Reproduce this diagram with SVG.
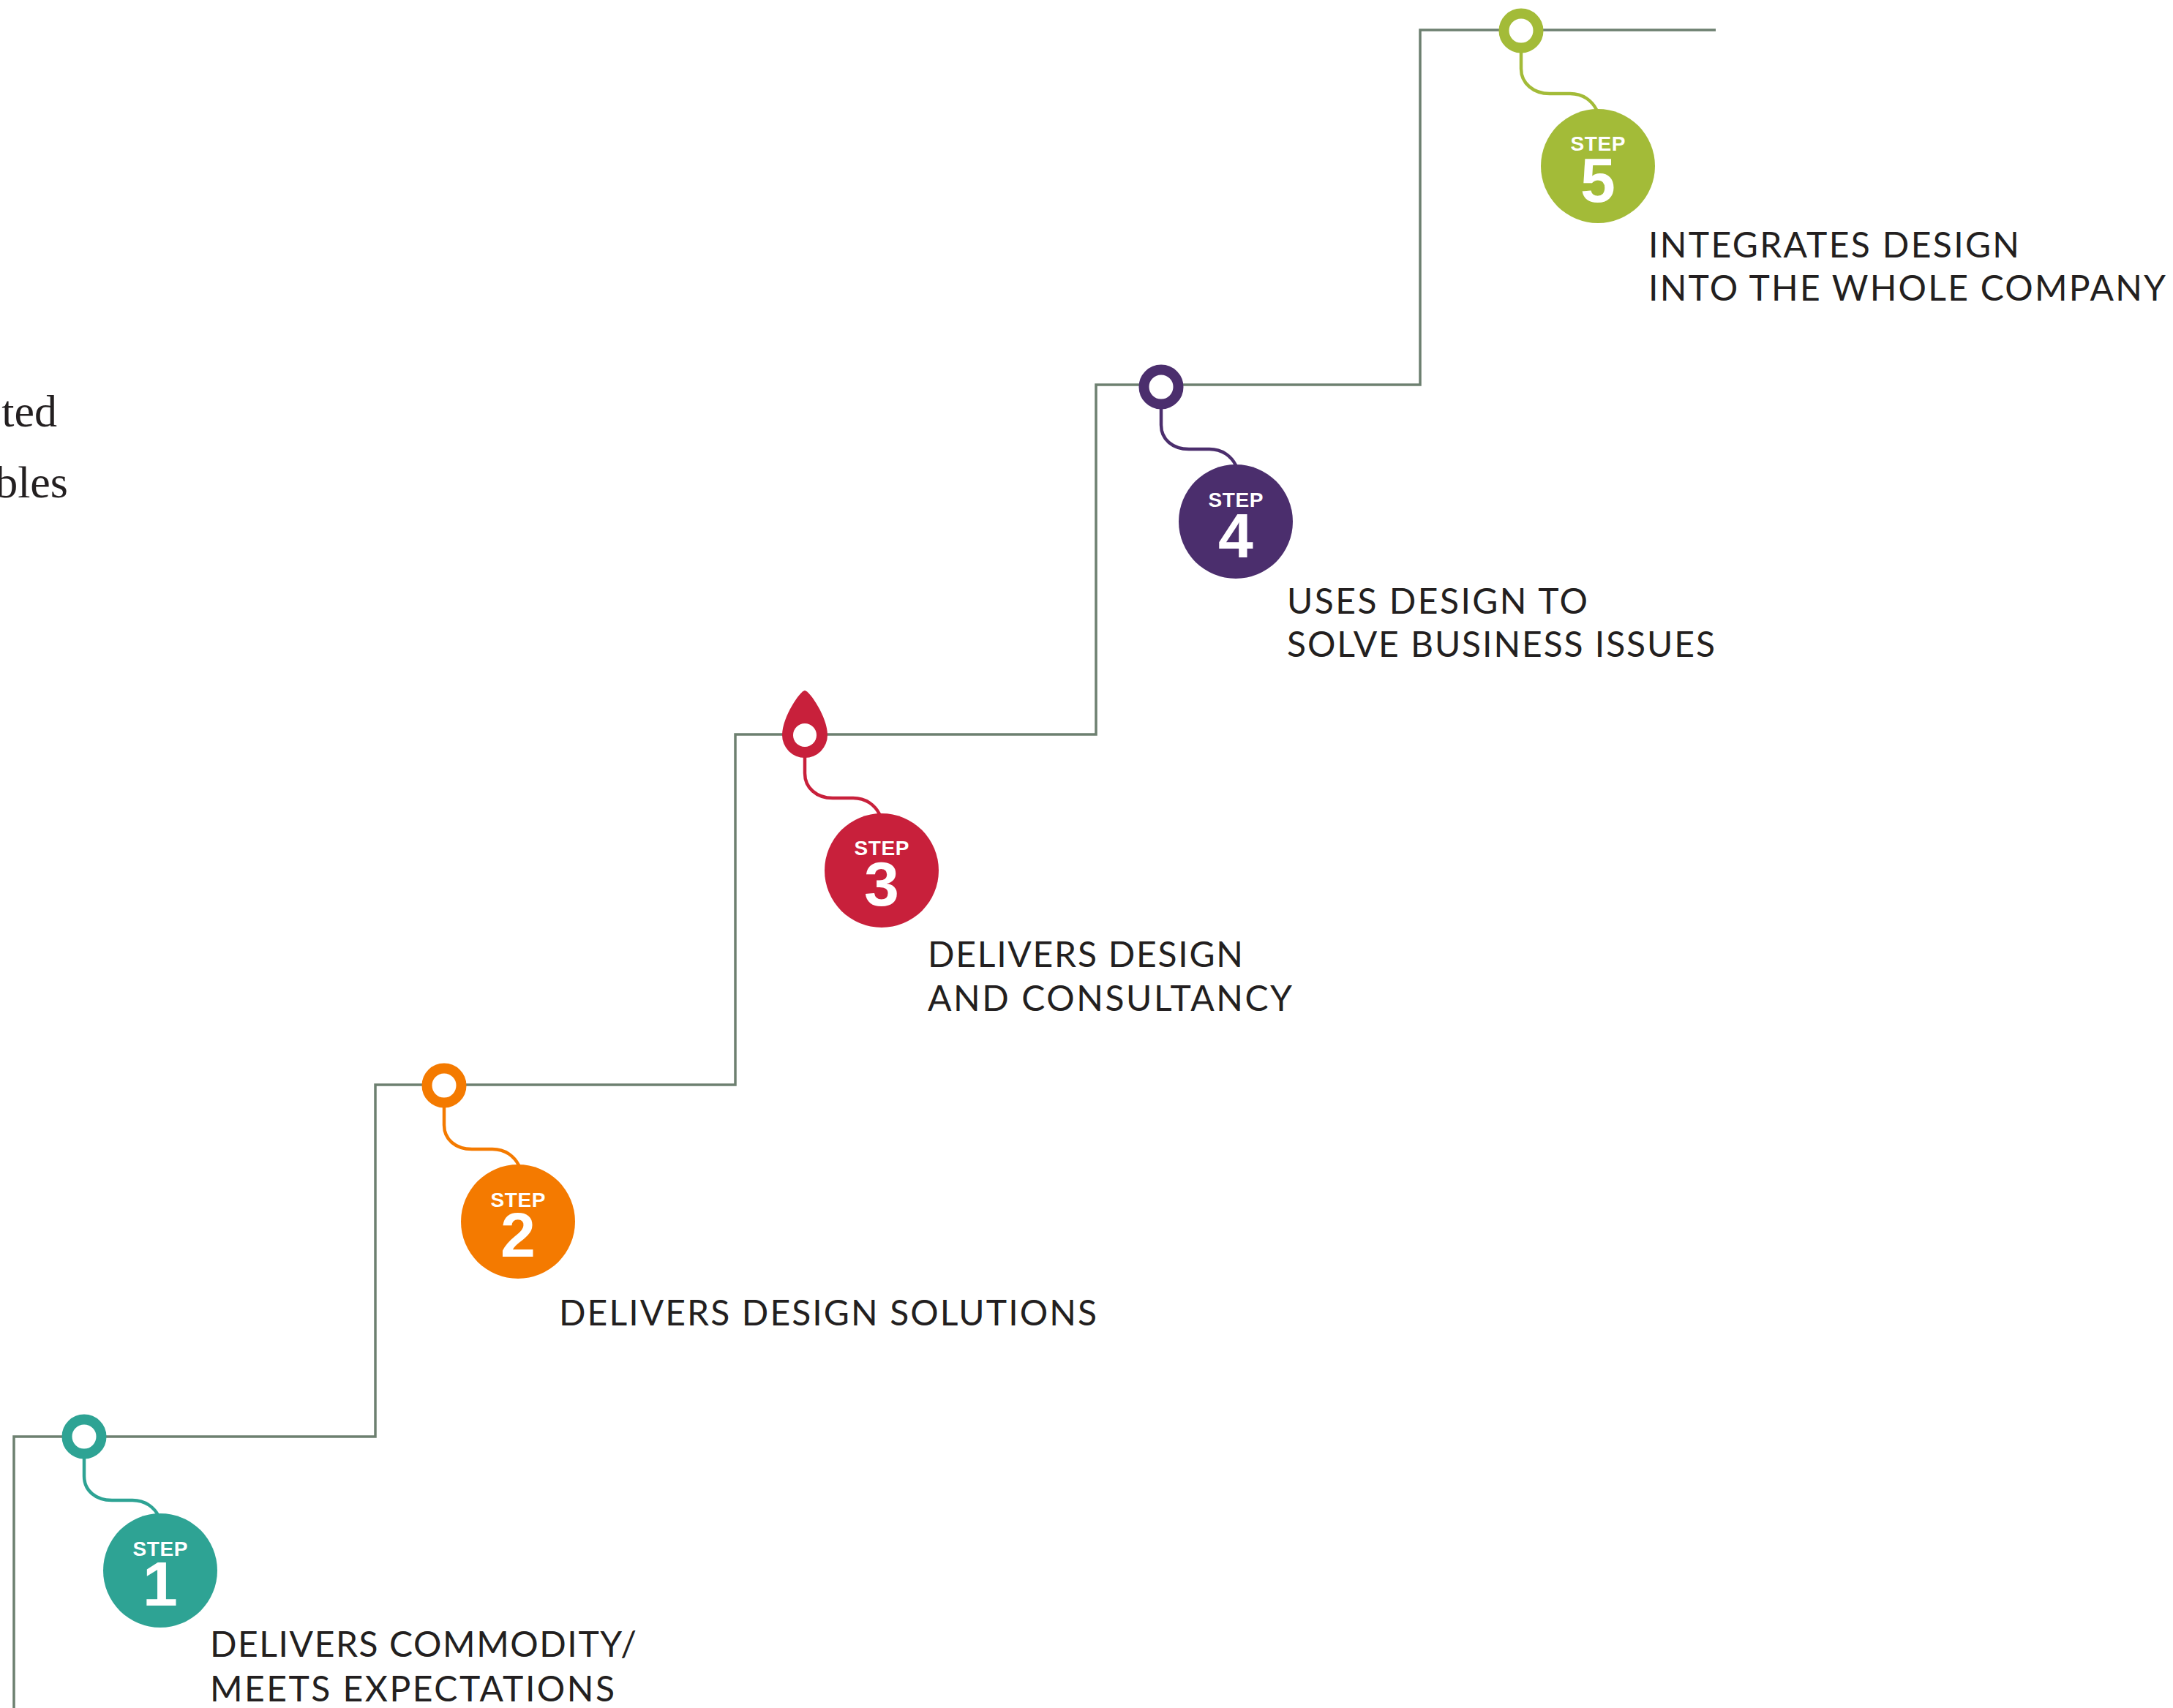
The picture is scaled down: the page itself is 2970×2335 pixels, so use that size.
<svg xmlns="http://www.w3.org/2000/svg" width="2970" height="2335" viewBox="0 0 2970 2335">
<style>
.stair{fill:none;stroke:#6d8070;stroke-width:3.5}
.tail{fill:none;stroke-width:4.5;stroke-linecap:round}
.ring{fill:#fff;stroke-width:14}
.step{font-family:"Liberation Sans",Arial,sans-serif;font-weight:bold;font-size:28px;fill:#fff;text-anchor:middle}
.num{font-family:"Liberation Sans",Arial,sans-serif;font-weight:bold;font-size:86px;fill:#fff;text-anchor:middle}
.lbl{font-family:Lato,"Liberation Sans",Arial,sans-serif;font-weight:400;font-size:48px;fill:#231f20}
.serif{font-family:"Liberation Serif","Times New Roman",serif;font-size:62px;fill:#231f20;text-anchor:end}
</style>
<rect width="2970" height="2335" fill="#fff"/>
<text class="serif" x="78" y="583">ted</text>
<text class="serif" x="93" y="680">bles</text>
<g id="connectors">
<path class="stair" d="M19 2335 V1964 H513 V1483 H1005 V1004 H1498 V526 H1941 V41 H2345"/>
</g>
<g id="step1">
<path class="tail" stroke="#2ea394" d="M115 1994 v24 c0 20 16 33 38 33 h28 c18 0 30 10 36 22"/>
<circle class="ring" stroke="#2ea394" cx="115" cy="1964" r="23.5"/>
<circle cx="219" cy="2147" r="78" fill="#2ea394"/>
<text class="step" x="219" y="2127" textLength="75">STEP</text>
<text class="num" x="219" y="2195">1</text>
<text class="lbl" x="287" y="2265" textLength="583">DELIVERS COMMODITY/</text>
<text class="lbl" x="287" y="2326" textLength="553">MEETS EXPECTATIONS</text>
</g>
<g id="step2">
<path class="tail" stroke="#f47a00" d="M607 1514 v24 c0 20 16 33 38 33 h28 c18 0 30 10 36 22"/>
<circle class="ring" stroke="#f47a00" cx="607" cy="1484" r="23.5"/>
<circle cx="708" cy="1670" r="78" fill="#f47a00"/>
<text class="step" x="708" y="1650" textLength="75">STEP</text>
<text class="num" x="708" y="1718">2</text>
<text class="lbl" x="764" y="1812" textLength="735">DELIVERS DESIGN SOLUTIONS</text>
</g>
<g id="step3">
<path class="tail" stroke="#c8203b" d="M1100 1035 v22 c0 20 16 34 38 34 h28 c18 0 30 10 36 22"/>
<path fill="#c8203b" d="M1100 944 C1106 944 1131 980 1131 1005 A31 31 0 0 1 1069 1005 C1069 980 1094 944 1100 944 Z"/>
<circle cx="1100" cy="1005" r="16" fill="#fff"/>
<circle cx="1205" cy="1190" r="78" fill="#c8203b"/>
<text class="step" x="1205" y="1169" textLength="75">STEP</text>
<text class="num" x="1205" y="1238">3</text>
<text class="lbl" x="1268" y="1322" textLength="431">DELIVERS DESIGN</text>
<text class="lbl" x="1268" y="1382" textLength="498">AND CONSULTANCY</text>
</g>
<g id="step4">
<path class="tail" stroke="#4b2e6d" d="M1587 559 v22 c0 20 16 33 38 33 h28 c18 0 30 10 36 22"/>
<circle class="ring" stroke="#4b2e6d" cx="1587" cy="529" r="23.5"/>
<circle cx="1689" cy="713" r="78" fill="#4b2e6d"/>
<text class="step" x="1689" y="693" textLength="75">STEP</text>
<text class="num" x="1689" y="762">4</text>
<text class="lbl" x="1759" y="839" textLength="411">USES DESIGN TO</text>
<text class="lbl" x="1759" y="898" textLength="585">SOLVE BUSINESS ISSUES</text>
</g>
<g id="step5">
<path class="tail" stroke="#a3bb38" d="M2079 72 v22 c0 20 17 34 39 34 h28 c18 0 30 10 36 22"/>
<circle class="ring" stroke="#a3bb38" cx="2079" cy="42" r="23.5"/>
<circle cx="2184" cy="227" r="78" fill="#a3bb38"/>
<text class="step" x="2184" y="206" textLength="75">STEP</text>
<text class="num" x="2184" y="276">5</text>
<text class="lbl" x="2253" y="352" textLength="507">INTEGRATES DESIGN</text>
<text class="lbl" x="2253" y="411" textLength="707">INTO THE WHOLE COMPANY</text>
</g>
</svg>
